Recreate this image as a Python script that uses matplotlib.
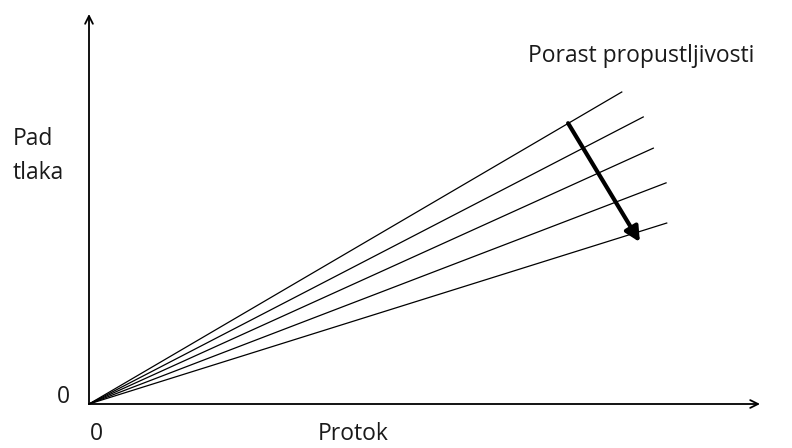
import numpy as np
import matplotlib
matplotlib.use("Agg")
import matplotlib.pyplot as plt

# krajnje tocke pravaca (protok, pad tlaka) - svi kreću iz ishodista
flow_end = [7.94, 8.26, 8.41, 8.60, 8.61]
dp_end = [8.00, 7.36, 6.56, 5.67, 4.64]

# strelica "porast propustljivosti"
arrow_start = (7.14, 7.20)
arrow_end = (8.21, 4.15)

plt.rcParams["font.family"] = ["Open Sans", "DejaVu Sans"]
FS = 16.5
TXT = "#1a1a1a"

fig = plt.figure(figsize=(7.92, 4.48), dpi=100)
ax = fig.add_axes([89 / 792, 44 / 448, 671 / 792, 390 / 448])
ax.set_xlim(0, 10)
ax.set_ylim(0, 10)
for s in ax.spines.values():
    s.set_visible(False)
ax.set_xticks([])
ax.set_yticks([])

# osi sa strelicama
ax.annotate("", xy=(1, 0), xytext=(0, 0), xycoords="axes fraction",
            arrowprops=dict(arrowstyle="->", lw=1.3, color="black",
                            shrinkA=0, shrinkB=0, mutation_scale=14))
ax.annotate("", xy=(0, 1), xytext=(0, 0), xycoords="axes fraction",
            arrowprops=dict(arrowstyle="->", lw=1.3, color="black",
                            shrinkA=0, shrinkB=0, mutation_scale=14))

for xe, ye in zip(flow_end, dp_end):
    ax.plot([0, xe], [0, ye], color="black", lw=0.9, clip_on=False)

ax.annotate("", xy=arrow_end, xytext=arrow_start,
            arrowprops=dict(arrowstyle="-|>", lw=3, color="black",
                            shrinkA=0, shrinkB=0, mutation_scale=22))

def ftext(px, py, s, **kw):
    fig.text(px / 792, 1 - py / 448, s, fontsize=FS, color=TXT,
             va="baseline", **kw)

ftext(528, 62, "Porast propustljivosti", ha="left")
ftext(13, 145, "Pad", ha="left")
ftext(13, 179, "tlaka", ha="left")
ftext(63, 403, "0", ha="center")
ftext(96, 440, "0", ha="center")
ftext(318, 440, "Protok", ha="left")

fig.savefig("out.png", dpi=100)
